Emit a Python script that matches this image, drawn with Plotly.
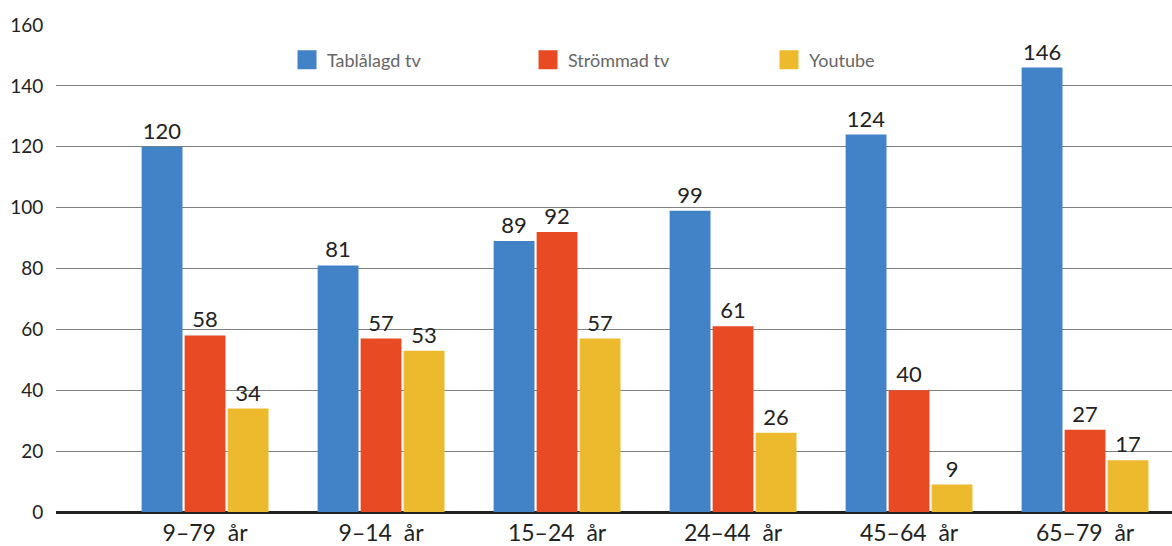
import plotly.graph_objects as go

categories = ["9–79  år", "9–14  år", "15–24  år", "24–44  år", "45–64  år", "65–79  år"]
tablalagd = [120, 81, 89, 99, 124, 146]
strommad = [58, 57, 92, 61, 40, 27]
youtube = [34, 53, 57, 26, 9, 17]
series_names = ["Tablålagd tv", "Strömmad tv", "Youtube"]
colors = ["#4282C6", "#E84A23", "#EDBA2E"]
y_ticks = [0, 20, 40, 60, 80, 100, 120, 140, 160]

FONT = "Lato"
fig = go.Figure()
for name, vals, col in zip(series_names, [tablalagd, strommad, youtube], colors):
    fig.add_trace(go.Bar(
        x=categories, y=vals, name=name, marker_color=col, marker_line_width=0,
        text=[str(v) for v in vals], textposition="outside", cliponaxis=False,
        textfont=dict(family=FONT, size=22, color="#222222"),
        showlegend=False, legendgroup=name, hoverinfo="skip",
    ))
    fig.add_trace(go.Scatter(
        x=[None], y=[None], mode="markers", name=name, legendgroup=name,
        marker=dict(symbol="square", size=20, color=col, line=dict(color=col, width=3)),
    ))

fig.update_layout(
    width=1172, height=546,
    margin=dict(l=56, r=0, t=25, b=34),
    paper_bgcolor="white", plot_bgcolor="white",
    barmode="group", bargap=0.267, bargroupgap=0.05,
    font=dict(family=FONT, color="#333333"),
    legend=dict(orientation="h", x=0.207, y=0.966, xanchor="left", yanchor="top",
                entrywidth=196, entrywidthmode="pixels",
                font=dict(family=FONT, size=18, color="#666666"),
                bgcolor="rgba(0,0,0,0)"),
    xaxis=dict(range=[-0.847, 5.494], tickfont=dict(family=FONT, size=23, color="#222222"),
               showgrid=False, ticks="", showline=False, automargin=False,
               ticklabelstandoff=5),
    yaxis=dict(range=[0, 160], tickvals=y_ticks, showgrid=True, gridcolor="#808080", gridwidth=1,
               zeroline=True, zerolinecolor="#222222", zerolinewidth=2.5,
               tickfont=dict(family=FONT, size=19, color="#222222"), ticks="outside",
               ticklen=8, tickcolor="rgba(0,0,0,0)",
               showline=False, automargin=False),
)
fig.write_html("out.html", config={"displayModeBar": False},
               post_script="document.body.style.margin='0';document.body.style.padding='0';")
